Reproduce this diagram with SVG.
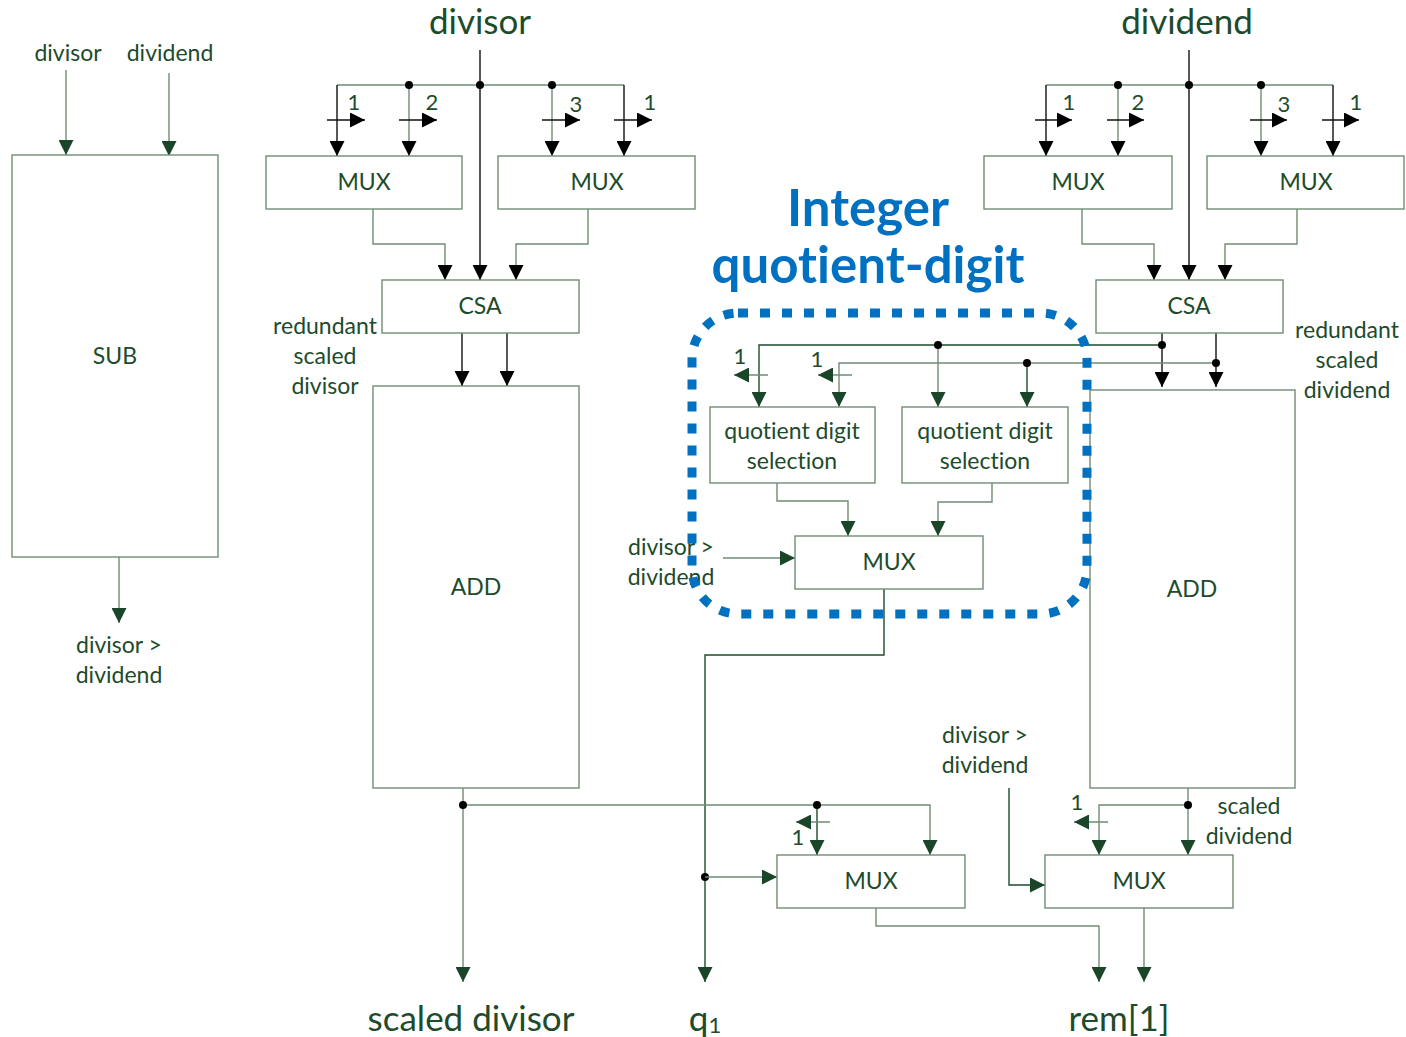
<svg xmlns="http://www.w3.org/2000/svg" width="1406" height="1037" viewBox="0 0 1406 1037">
  <style>
    text { font-variant-ligatures: none; font-feature-settings: "liga" 0, "clig" 0; }
    .box { fill: #ffffff; stroke: #6f8d75; stroke-width: 1.4; }
    .t { font-family: Lato, "Open Sans", "Liberation Sans", sans-serif; fill: #1d4b2b; text-anchor: middle; }
    .lbl { font-size: 23px; }
    .big { font-size: 35px; }
    .num { font-size: 22px; }
    .w { fill: none; stroke: #6f8d75; stroke-width: 1.4; }
    .k { fill: none; stroke: #111111; stroke-width: 1.4; }
    .g { fill: none; stroke: #1d4b2b; stroke-width: 1.4; }
    .ak { marker-end: url(#headK); }
    .ag { marker-end: url(#headG); }
    .dot { fill: #000000; }
    .title { font-family: Lato, "Open Sans", "Liberation Sans", sans-serif; font-weight: bold; font-size: 51px; fill: #0070c0; text-anchor: middle; }
  </style>
  <defs>
    <marker id="headK" markerUnits="userSpaceOnUse" markerWidth="15" markerHeight="15" refX="15" refY="7.5" orient="auto">
      <path d="M0,0 L15,7.5 L0,15 z" fill="#000000"/>
    </marker>
    <marker id="headG" markerUnits="userSpaceOnUse" markerWidth="15" markerHeight="15" refX="15" refY="7.5" orient="auto">
      <path d="M0,0 L15,7.5 L0,15 z" fill="#1a4528"/>
    </marker>
  </defs>

  <!-- connectors -->
  <g id="connectors">
    <!-- SUB inputs / output -->
    <path class="w ag" d="M66,70 V155"/>
    <path class="w ag" d="M169,73 V156"/>
    <path class="w ag" d="M119,557 V623"/>

    <!-- divisor bus -->
    <path class="k ak" d="M480,50 V280"/>
    <path class="w" d="M337,85 H624"/>
    <path class="k ak" d="M337,85 V156"/>
    <path class="w ak" d="M409,85 V156"/>
    <path class="w ak" d="M552,85 V156"/>
    <path class="k ak" d="M624,85 V156"/>
    <path class="k ak" d="M327,120 H365"/>
    <path class="k ak" d="M399,120 H437"/>
    <path class="k ak" d="M542,120 H580"/>
    <path class="k ak" d="M614,120 H652"/>
    <circle class="dot" cx="409" cy="85" r="4"/>
    <circle class="dot" cx="480" cy="85" r="4"/>
    <circle class="dot" cx="552" cy="85" r="4"/>
    <!-- divisor muxes to CSA -->
    <path class="w ak" d="M373,209 V244 H445 V280"/>
    <path class="w ak" d="M588,209 V244 H516 V280"/>
    <path class="k ak" d="M462,333 V386"/>
    <path class="k ak" d="M507,333 V386"/>

    <!-- dividend bus -->
    <path class="k ak" d="M1189,50 V280"/>
    <path class="w" d="M1046,85 H1333"/>
    <path class="k ak" d="M1046,85 V156"/>
    <path class="w ak" d="M1118,85 V156"/>
    <path class="w ak" d="M1261,85 V156"/>
    <path class="k ak" d="M1333,85 V156"/>
    <path class="k ak" d="M1035,120 H1072"/>
    <path class="k ak" d="M1107,120 H1144"/>
    <path class="k ak" d="M1250,120 H1287"/>
    <path class="k ak" d="M1322,120 H1359"/>
    <circle class="dot" cx="1118" cy="85" r="4"/>
    <circle class="dot" cx="1189" cy="85" r="4"/>
    <circle class="dot" cx="1261" cy="85" r="4"/>
    <!-- dividend muxes to CSA -->
    <path class="w ak" d="M1082,209 V244 H1154 V280"/>
    <path class="w ak" d="M1297,209 V244 H1225 V280"/>
    <path class="k ak" d="M1162,333 V387"/>
    <path class="k ak" d="M1216,333 V387"/>

    <!-- redundant dividend into quotient digit selection -->
    <path class="g ag" d="M1162,345 H759 V407"/>
    <path class="w ag" d="M1216,363 H839 V407"/>
    <path class="w ag" d="M938,345 V407"/>
    <path class="g ag" d="M1027,363 V407"/>
    <path class="w ag" d="M768,375 H734"/>
    <path class="w ag" d="M852,375 H818"/>
    <circle class="dot" cx="1162" cy="345" r="4"/>
    <circle class="dot" cx="1216" cy="363" r="4"/>
    <circle class="dot" cx="938" cy="345" r="4"/>
    <circle class="dot" cx="1027" cy="363" r="4"/>

    <!-- selection outputs to MUX -->
    <path class="w ag" d="M777,483 V501 H848 V536"/>
    <path class="w ag" d="M992,483 V502 H938 V536"/>
    <path class="w ag" d="M723,558 H795"/>
    <!-- quotient digit out -->
    <path class="g ag" d="M884,589 V655 H705 V982"/>
    <circle class="dot" cx="705" cy="877" r="4"/>
    <path class="w ag" d="M705,877 H777"/>

    <!-- scaled divisor -->
    <path class="w ag" d="M463,788 V982"/>
    <path class="w ag" d="M463,805 H930 V855"/>
    <path class="g ag" d="M817,805 V855"/>
    <path class="w ag" d="M830,822 H796"/>
    <circle class="dot" cx="463" cy="805" r="4"/>
    <circle class="dot" cx="817" cy="805" r="4"/>

    <!-- scaled dividend -->
    <path class="w ag" d="M1188,788 V855"/>
    <path class="w ag" d="M1188,805 H1099 V855"/>
    <path class="w ag" d="M1108,822 H1074"/>
    <circle class="dot" cx="1188" cy="805" r="4"/>
    <path class="g ag" d="M1009,788 V885 H1045"/>

    <!-- remainder outputs -->
    <path class="w ag" d="M876,908 V926 H1099 V982"/>
    <path class="w ag" d="M1144,908 V982"/>
  </g>

  <!-- blocks -->
  <g id="sub">
    <rect class="box" x="12" y="155" width="206" height="402"/>
    <text class="t lbl" x="115" y="364">SUB</text>
  </g>
  <g id="mux-divisor-a">
    <rect class="box" x="266" y="156" width="196" height="53"/>
    <text class="t lbl" x="364" y="190">MUX</text>
  </g>
  <g id="mux-divisor-b">
    <rect class="box" x="498" y="156" width="197" height="53"/>
    <text class="t lbl" x="597" y="190">MUX</text>
  </g>
  <g id="csa-divisor">
    <rect class="box" x="382" y="280" width="197" height="53"/>
    <text class="t lbl" x="480" y="314">CSA</text>
  </g>
  <g id="add-divisor">
    <rect class="box" x="373" y="386" width="206" height="402"/>
    <text class="t lbl" x="476" y="595">ADD</text>
  </g>
  <g id="mux-dividend-a">
    <rect class="box" x="984" y="156" width="188" height="53"/>
    <text class="t lbl" x="1078" y="190">MUX</text>
  </g>
  <g id="mux-dividend-b">
    <rect class="box" x="1207" y="156" width="197" height="53"/>
    <text class="t lbl" x="1306" y="190">MUX</text>
  </g>
  <g id="csa-dividend">
    <rect class="box" x="1096" y="280" width="187" height="53"/>
    <text class="t lbl" x="1189" y="314">CSA</text>
  </g>
  <g id="add-dividend">
    <rect class="box" x="1090" y="390" width="205" height="398"/>
    <text class="t lbl" x="1192" y="597">ADD</text>
  </g>
  <g id="qds-a">
    <rect class="box" x="710" y="407" width="165" height="76"/>
    <text class="t lbl" x="792" y="439">quotient digit</text>
    <text class="t lbl" x="792" y="469">selection</text>
  </g>
  <g id="qds-b">
    <rect class="box" x="902" y="407" width="166" height="76"/>
    <text class="t lbl" x="985" y="439">quotient digit</text>
    <text class="t lbl" x="985" y="469">selection</text>
  </g>
  <g id="mux-q">
    <rect class="box" x="795" y="536" width="188" height="53"/>
    <text class="t lbl" x="889" y="570">MUX</text>
  </g>
  <g id="mux-scaled-divisor">
    <rect class="box" x="777" y="855" width="188" height="53"/>
    <text class="t lbl" x="871" y="889">MUX</text>
  </g>
  <g id="mux-scaled-dividend">
    <rect class="box" x="1045" y="855" width="188" height="53"/>
    <text class="t lbl" x="1139" y="889">MUX</text>
  </g>

  <!-- labels -->
  <g id="labels">
    <text class="t lbl" x="68" y="61">divisor</text>
    <text class="t lbl" x="170" y="61">dividend</text>
    <text class="t lbl" x="119" y="653">divisor &gt;</text>
    <text class="t lbl" x="119" y="683">dividend</text>

    <text class="t big" x="480" y="34">divisor</text>
    <text class="t big" x="1187" y="34">dividend</text>

    <text class="t num" x="354" y="110">1</text>
    <text class="t num" x="432" y="110">2</text>
    <text class="t num" x="576" y="112">3</text>
    <text class="t num" x="650" y="110">1</text>
    <text class="t num" x="1069" y="110">1</text>
    <text class="t num" x="1138" y="110">2</text>
    <text class="t num" x="1284" y="112">3</text>
    <text class="t num" x="1356" y="110">1</text>

    <text class="t lbl" x="325" y="334">redundant</text>
    <text class="t lbl" x="325" y="364">scaled</text>
    <text class="t lbl" x="325" y="394">divisor</text>
    <text class="t lbl" x="1347" y="338">redundant</text>
    <text class="t lbl" x="1347" y="368">scaled</text>
    <text class="t lbl" x="1347" y="398">dividend</text>

    <text class="t num" x="740" y="364">1</text>
    <text class="t num" x="817" y="367">1</text>
    <text class="t lbl" x="671" y="555">divisor &gt;</text>
    <text class="t lbl" x="671" y="585">dividend</text>

    <text class="t lbl" x="985" y="743">divisor &gt;</text>
    <text class="t lbl" x="985" y="773">dividend</text>
    <text class="t num" x="1077" y="810">1</text>
    <text class="t num" x="798" y="845">1</text>
    <text class="t lbl" x="1249" y="814">scaled</text>
    <text class="t lbl" x="1249" y="844">dividend</text>

    <text class="t big" x="471" y="1031">scaled divisor</text>
    <text class="t big" x="705" y="1031">q<tspan font-size="22px" dy="2">1</tspan></text>
    <text class="t big" x="1119" y="1031">rem[1]</text>
  </g>

  <!-- highlighted quotient-digit region -->
  <g id="qd-highlight">
    <rect x="692" y="313" width="395" height="301" rx="46" ry="46" fill="none" stroke="#0070c0" stroke-width="9" stroke-dasharray="10 12"/>
    <text class="title" x="868" y="226">Integer</text>
    <text class="title" x="868" y="283">quotient-digit</text>
  </g>
</svg>
